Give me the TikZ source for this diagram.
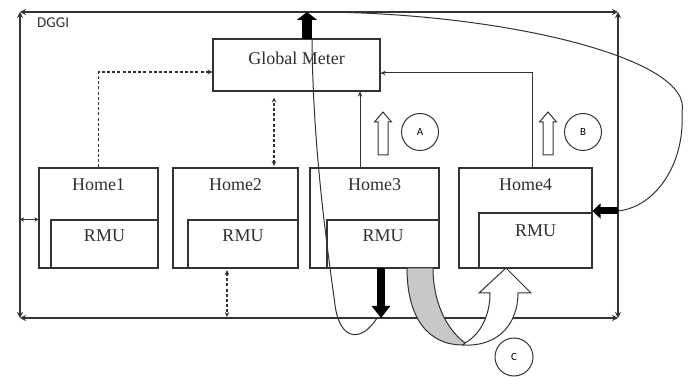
\documentclass[tikz,border=0pt]{standalone}
\usepackage{fontspec}
\setmainfont{Liberation Serif}
\newfontfamily\sansf{Carlito}
\usetikzlibrary{arrows.meta,calc}
\definecolor{ln}{HTML}{333333}
\definecolor{band}{HTML}{C8C8C8}
\tikzset{
  box/.style={draw=ln, line width=1.1pt, inner sep=0pt},
  lbl/.style={font=\fontsize{18}{18}\selectfont, text=black!82, inner sep=0pt},
  bus/.style={draw=ln, line width=1.6pt, {Stealth[length=6pt,width=6pt]}-{Stealth[length=6pt,width=6pt]}},
  thin/.style={draw=ln, line width=1pt},
  tipa/.style={-{Stealth[length=5pt,width=4.5pt]}},
  dsh/.style={draw=ln, line width=1.3pt, dash pattern=on 3pt off 2.2pt},
  circ/.style={circle, draw=ln, line width=1pt, minimum size=37pt, inner sep=0pt, font=\sansf\fontsize{11}{11}\selectfont},
  heavy/.style={draw=black, line cap=butt},
  hollow/.style={draw=ln, line width=1pt, fill=white},
}
\begin{document}
\begin{tikzpicture}[x=1pt,y=-1pt]
\useasboundingbox (0,0) rectangle (688,379);
% frame corners
\coordinate (tl) at (20,12);
\coordinate (tr) at (618,12);
\coordinate (bl) at (20,318);
\coordinate (br) at (618,318);
\draw[bus] (bl) -- (tl);
\draw[bus] (tl) -- (tr);
\draw[bus] (tr) -- (br);
\draw[bus] (br) -- (bl);
\node[font=\sansf\fontsize{15}{15}\selectfont, text=black!80, anchor=west, inner sep=0pt] (dggi) at (37,23) {DGGI};

% Global meter
\node[box, minimum width=167pt, minimum height=52pt] (gm) at (296.5,65) {};
\node[lbl] (gml) at (296.5,58) {Global Meter};

% Homes
\node[box, minimum width=119pt, minimum height=100pt] (home1) at (98.5,218) {};
\node[box, minimum width=107pt, minimum height=48pt] (rmu1) at (104.5,244) {};
\node[lbl] (h1l) at (98.5,185) {Home1};
\node[lbl] (r1l) at (104.5,236) {RMU};

\node[box, minimum width=125pt, minimum height=100pt] (home2) at (235.5,218) {};
\node[box, minimum width=110pt, minimum height=48pt] (rmu2) at (243,244) {};
\node[lbl] (h2l) at (235.5,185) {Home2};
\node[lbl] (r2l) at (243,236) {RMU};

\node[box, minimum width=129pt, minimum height=100pt] (home3) at (374.5,218) {};
\node[box, minimum width=112pt, minimum height=48pt] (rmu3) at (383,244) {};
\node[lbl] (h3l) at (374.5,185) {Home3};
\node[lbl] (r3l) at (383,236) {RMU};

\node[box, minimum width=133pt, minimum height=100pt] (home4) at (525.5,218) {};
\node[box, minimum width=113pt, minimum height=55pt] (rmu4) at (535.5,240.5) {};
\node[lbl] (h4l) at (525.5,185) {Home4};
\node[lbl] (r4l) at (535.5,231) {RMU};

% dashed connectors
\draw[dsh, tipa] (home1.north) |- ($(gm.west)+(0,7)$);
\coordinate (h2t) at (274,168);
\draw[dsh, {Stealth[length=5pt,width=4.5pt]}-{Stealth[length=5pt,width=4.5pt]}, shorten <=2pt, shorten >=6pt] (h2t) -- (h2t |- gm.south);
\coordinate (h2b) at (227,268);
\draw[dsh, {Stealth[length=5pt,width=4.5pt]}-{Stealth[length=5pt,width=4.5pt]}, shorten <=2pt, shorten >=1pt] (h2b) -- (h2b |- bl);

% home1 to left bus
\coordinate (h1w) at (home1.west |- rmu1.north);
\draw[thin, line width=1pt, {Stealth[length=4pt,width=4.5pt]}-{Stealth[length=4pt,width=4.5pt]}] (h1w) -- (h1w -| tl);

% home3 / home4 solid links to global meter
\coordinate (h3t) at (360,168);
\draw[thin, tipa] (h3t) -- (h3t |- gm.south);
\coordinate (h4t) at (532,168);
\draw[thin, tipa] (h4t) |- ($(gm.east)+(0,8)$);

% hollow arrows A and B
\draw[hollow] (378,155) -- (378,122) -- (374.5,122) -- (383,112) -- (391.5,122) -- (388,122) -- (388,155) -- cycle;
\draw[hollow] (543,155) -- (543,122) -- (539.5,122) -- (548,112) -- (556.5,122) -- (553,122) -- (553,155) -- cycle;
\node[circ] (ca) at (420,132) {A};
\node[circ] (cb) at (583,132) {B};
\node[circ, minimum size=38pt] (cc) at (514,357) {C};

% curved band C
\draw[draw=ln, line width=1pt, fill=band] (407,268) .. controls (407,318) and (428,345) .. (463,345) -- (465,343) .. controls (445,328) and (433,300) .. (433,268) -- cycle;
\draw[hollow] (463,345) .. controls (500,347) and (518,322) .. (518,293) -- (531,293) -- (506,268) -- (479,293) -- (490,293) .. controls (490,315) and (481,334) .. (465,343) -- cycle;

% heavy arrows and thin loop
\coordinate (dn) at (381,268);
\draw[heavy, line width=8pt, -{Triangle[length=12pt,width=18pt]}] (dn) -- (dn |- br);
\coordinate (upb) at (307,39);
\draw[heavy, line width=10pt, -{Triangle[length=8pt,width=20pt]}] (upb) -- (upb |- tl);
\coordinate (loopb) at (377,318);
\draw[thin] (loopb) .. controls (362,342) and (340,342) .. (335,305) .. controls (327,245) and (313,150) .. (312,40);
\coordinate (topc) at (313,12);
\coordinate (h4arr) at (618,211);
\draw[thin] (topc) .. controls (500,12) and (694,58) .. (682,112) .. controls (685,165) and (655,207) .. (h4arr);
\draw[heavy, line width=7pt, -{Triangle[length=8pt,width=15pt]}] (h4arr) -- (h4arr -| home4.east);
\end{tikzpicture}
\end{document}
